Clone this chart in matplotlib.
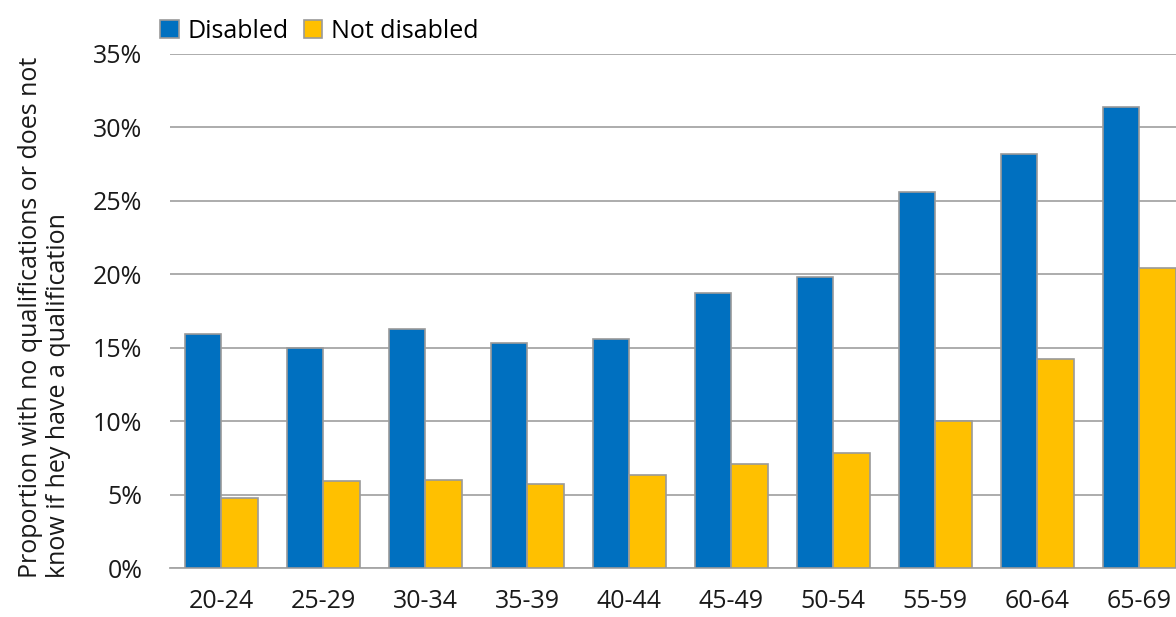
import numpy as np
import matplotlib.pyplot as plt
from matplotlib.ticker import FuncFormatter

plt.rcParams['font.family'] = ['Open Sans', 'DejaVu Sans']

# proportion with no qualifications, by age band
age_bands = ['20-24', '25-29', '30-34', '35-39', '40-44',
             '45-49', '50-54', '55-59', '60-64', '65-69']
disabled = [15.9, 15.0, 16.3, 15.3, 15.6, 18.7, 19.8, 25.6, 28.2, 31.4]
not_disabled = [4.8, 5.9, 6.0, 5.7, 6.3, 7.1, 7.8, 10.0, 14.2, 20.4]

fig = plt.figure(figsize=(11.76, 6.17), dpi=100)
ax = fig.add_axes([0.1446, 0.0794, 0.8674, 0.8331])

x = np.arange(len(age_bands))
w = 0.358
ax.bar(x - w / 2, disabled, w, color='#0070C0', edgecolor='#9a9a9a',
       linewidth=1.2, label='Disabled', zorder=3)
ax.bar(x + w / 2, not_disabled, w, color='#FFC000', edgecolor='#9a9a9a',
       linewidth=1.2, label='Not disabled', zorder=3)

ax.set_xlim(-0.5, len(age_bands) - 0.5)
ax.set_ylim(0, 35)
ax.set_yticks(np.arange(0, 36, 5))
ax.yaxis.set_major_formatter(FuncFormatter(lambda v, p: f'{v:.0f}%'))
ax.set_xticks(x)
ax.set_xticklabels(age_bands)
ax.grid(axis='y', color='#a6a6a6', linewidth=1.3, zorder=0)
for s in ['top', 'right', 'left']:
    ax.spines[s].set_visible(False)
ax.spines['bottom'].set_color('#a6a6a6')
ax.spines['bottom'].set_linewidth(1.3)
ax.tick_params(axis='both', length=0, labelsize=18, colors='#1a1a1a')
ax.tick_params(axis='y', pad=20)
ax.tick_params(axis='x', pad=15)

ax.set_ylabel('Proportion with no qualifications or does not\nknow if hey have a qualification',
              fontsize=18, color='#1a1a1a', linespacing=1.15, multialignment='left')
ax.yaxis.set_label_coords(-0.097, 0.487)

ax.legend(loc='lower left', bbox_to_anchor=(-0.022, 0.995), ncol=2, frameon=False,
          fontsize=18, handlelength=0.75, handleheight=0.75, handletextpad=0.35,
          columnspacing=0.6, borderaxespad=0.1)

fig.savefig('out.png', dpi=100)
